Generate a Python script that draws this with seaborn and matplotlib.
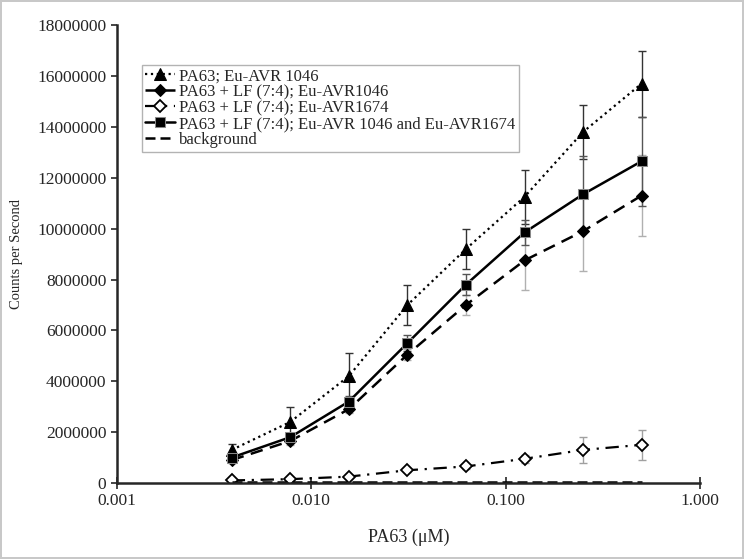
import numpy as np
import pandas as pd
import seaborn as sns
import matplotlib.pyplot as plt
from matplotlib.ticker import FixedLocator, FuncFormatter

# concentrations PA63 (uM)
conc = [0.0039, 0.0078, 0.0156, 0.03125, 0.0625, 0.125, 0.25, 0.5]

tri_vals = [1300000, 2400000, 4200000, 7000000, 9200000, 11250000, 13800000, 15700000]
tri_err = [250000, 600000, 900000, 800000, 800000, 1050000, 1050000, 1300000]

dia_vals = [900000, 1650000, 2900000, 5050000, 7000000, 8750000, 9900000, 11300000]
dia_err = [100000, 150000, 150000, 200000, 400000, 1150000, 1550000, 1600000]

open_vals = [100000, 150000, 250000, 500000, 650000, 950000, 1300000, 1500000]
open_err = [50000, 50000, 60000, 80000, 100000, 150000, 500000, 600000]

sq_vals = [1000000, 1800000, 3200000, 5500000, 7800000, 9850000, 11350000, 12650000]
sq_err = [100000, 150000, 200000, 300000, 400000, 500000, 1500000, 1750000]

bg_vals = [40000, 40000, 40000, 40000, 40000, 40000, 40000, 40000]

labels = ['PA63; Eu-AVR 1046',
          'PA63 + LF (7:4); Eu-AVR1046',
          'PA63 + LF (7:4); Eu-AVR1674',
          'PA63 + LF (7:4); Eu-AVR 1046 and Eu-AVR1674',
          'background']

sns.set_style('ticks')
plt.rcParams['font.family'] = ['Liberation Serif', 'DejaVu Serif']

fig = plt.figure(figsize=(7.44, 5.59), dpi=100)
fig.patch.set_edgecolor('#c8c8c8')
fig.patch.set_linewidth(1.5)
ax = fig.add_axes([0.157, 0.136, 0.784, 0.819])

# error bars first so markers sit on top
ax.errorbar(conc, tri_vals, yerr=tri_err, fmt='none', ecolor='#333333', elinewidth=1, capsize=3)
ax.errorbar(conc, dia_vals, yerr=dia_err, fmt='none', ecolor='#b0b0b0', elinewidth=1, capsize=3)
ax.errorbar(conc, open_vals, yerr=open_err, fmt='none', ecolor='#a0a0a0', elinewidth=1, capsize=3)
ax.errorbar(conc, sq_vals, yerr=sq_err, fmt='none', ecolor='#555555', elinewidth=1, capsize=3)

sns.lineplot(x=conc, y=tri_vals, ax=ax, color='black', linestyle=':', linewidth=1.6,
             marker='^', markersize=8, markeredgecolor='black', label=labels[0])
sns.lineplot(x=conc, y=dia_vals, ax=ax, color='black', linestyle=(0, (5, 3)), linewidth=1.8,
             marker='D', markersize=6, markeredgecolor='black', label=labels[1])
sns.lineplot(x=conc, y=open_vals, ax=ax, color='black', linestyle=(0, (6, 3, 1, 3)), linewidth=1.6,
             marker='D', markersize=6, markerfacecolor='white', markeredgecolor='black',
             markeredgewidth=1.3, label=labels[2])
sns.lineplot(x=conc, y=sq_vals, ax=ax, color='black', linestyle='-', linewidth=1.8,
             marker='s', markersize=7, markeredgecolor='#888888', label=labels[3])
sns.lineplot(x=conc, y=bg_vals, ax=ax, color='black', linestyle=(0, (4, 2)), linewidth=1.8,
             label=labels[4])

ax.set_xscale('log')
ax.set_xlim(0.001, 1.0)
ax.set_ylim(0, 18000000)
ax.xaxis.set_major_locator(FixedLocator([0.001, 0.01, 0.1, 1.0]))
ax.xaxis.set_minor_locator(FixedLocator([]))
ax.xaxis.set_major_formatter(FuncFormatter(lambda v, p: f'{v:.3f}'))
ax.yaxis.set_major_locator(FixedLocator(np.arange(0, 18000001, 2000000)))
ax.yaxis.set_major_formatter(FuncFormatter(lambda v, p: f'{int(v)}'))
ax.tick_params(axis='x', direction='inout', length=8, width=1.2, labelsize=12.5)
ax.tick_params(axis='y', direction='out', length=4, width=1.2, labelsize=12.5)

for side in ['top', 'right']:
    ax.spines[side].set_visible(False)
for side in ['left', 'bottom']:
    ax.spines[side].set_linewidth(1.8)

ax.set_xlabel('PA63 (\u03bcM)', fontsize=13, labelpad=14)
ax.set_ylabel('Counts per Second', fontsize=10.5, labelpad=10)

leg = ax.legend(loc='upper left', bbox_to_anchor=(0.043, 0.913), borderaxespad=0,
                fontsize=12, frameon=True, fancybox=False, edgecolor='#a0a0a0',
                handlelength=1.8, handletextpad=0.25, borderpad=0.2, labelspacing=0.0)
leg.get_frame().set_linewidth(1)

fig.savefig('out.png', dpi=100, edgecolor=fig.get_edgecolor())
